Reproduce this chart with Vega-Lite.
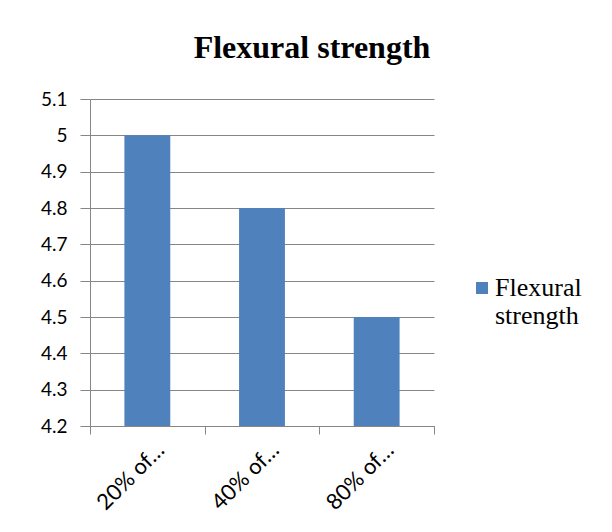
{
  "$schema": "https://vega.github.io/schema/vega-lite/v6.json",
  "width": 344,
  "height": 327,
  "autosize": {"type": "none"},
  "padding": {"left": 90, "top": 99, "right": 178, "bottom": 106},
  "background": "white",
  "title": {
    "text": "Flexural strength",
    "font": "Liberation Serif",
    "fontSize": 32,
    "fontWeight": "bold",
    "color": "#000000",
    "baseline": "alphabetic",
    "offset": 0,
    "dx": 50
  },
  "data": {
    "values": [
      {"category": "20% of…", "value": 5.0, "series": "Flexural strength"},
      {"category": "40% of…", "value": 4.8, "series": "Flexural strength"},
      {"category": "80% of…", "value": 4.5, "series": "Flexural strength"}
    ]
  },
  "mark": {"type": "bar", "clip": true, "width": {"band": 0.4}},
  "encoding": {
    "x": {
      "field": "category",
      "type": "nominal",
      "sort": null,
      "scale": {"paddingInner": 0, "paddingOuter": 0},
      "axis": {
        "title": null,
        "labelAngle": -45,
        "labelAlign": "right",
        "labelBaseline": "middle",
        "labelFont": "Lato",
        "labelFontSize": 22,
        "labelColor": "#000000",
        "labelOffset": 13,
        "labelPadding": 12,
        "tickBand": "extent",
        "tickSize": 8,
        "tickColor": "#868686",
        "domainColor": "#868686",
        "grid": false
      }
    },
    "y": {
      "field": "value",
      "type": "quantitative",
      "scale": {"domain": [4.2, 5.1], "zero": false, "nice": false},
      "axis": {
        "title": null,
        "values": [4.2, 4.3, 4.4, 4.5, 4.6, 4.7, 4.8, 4.9, 5.0, 5.1],
        "labelExpr": "format(datum.value, '.1~f')",
        "labelFont": "Lato",
        "labelFontSize": 19,
        "labelColor": "#000000",
        "labelPadding": 13,
        "tickSize": 10,
        "tickColor": "#868686",
        "domainColor": "#868686",
        "gridColor": "#868686",
        "grid": true
      }
    },
    "color": {
      "field": "series",
      "type": "nominal",
      "scale": {"range": ["#4F81BD"]},
      "legend": {
        "title": null,
        "orient": "none",
        "legendX": 379,
        "legendY": 176,
        "padding": 0,
        "symbolType": "square",
        "symbolSize": 144,
        "symbolStrokeWidth": 0,
        "labelFont": "Liberation Serif",
        "labelFontSize": 26,
        "labelColor": "#000000",
        "labelOffset": 0,
        "labelLimit": 300,
        "labelExpr": "split(datum.label, ' ')"
      }
    }
  },
  "config": {
    "view": {"stroke": null},
    "axis": {"domainWidth": 1, "tickWidth": 1, "gridWidth": 1}
  }
}
